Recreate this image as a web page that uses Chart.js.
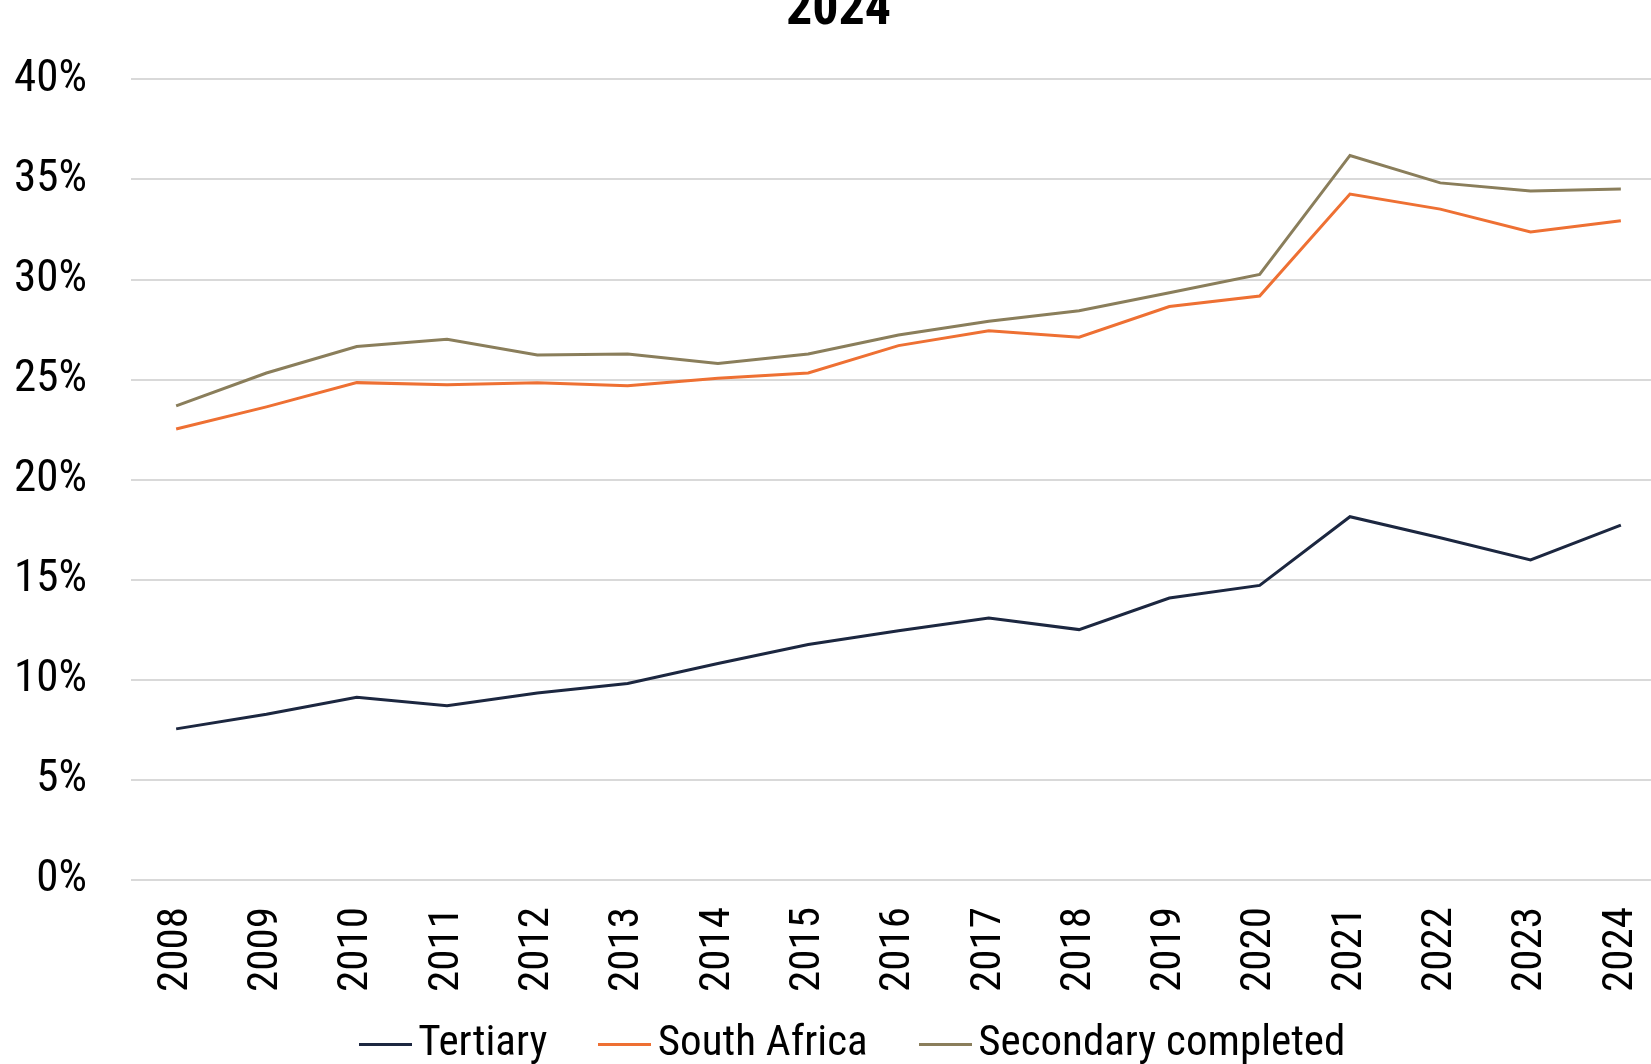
<!DOCTYPE html>
<html>
<head>
<meta charset="utf-8">
<script src="https://cdn.jsdelivr.net/npm/chart.js@4"></script>
<style>
  html, body { margin: 0; padding: 0; background: #fff; overflow: hidden; }
  #wrap { position: absolute; left: 0; top: -24px; width: 1670px; height: 1100px; }
</style>
</head>
<body>
<div id="wrap"><canvas id="chart"></canvas></div>
<script>
const FONT = "'Liberation Sans Narrow', 'Roboto Condensed', 'DejaVu Sans Condensed', 'Liberation Sans', sans-serif";

const years = ["2008", "2009", "2010", "2011", "2012", "2013", "2014", "2015", "2016",
  "2017", "2018", "2019", "2020", "2021", "2022", "2023", "2024"];

// values in percent
const tertiary = [7.55, 8.28, 9.13, 8.71, 9.34, 9.82, 10.82, 11.77, 12.45,
  13.09, 12.51, 14.09, 14.72, 18.15, 17.1, 15.99, 17.73];
const southAfrica = [22.53, 23.64, 24.85, 24.75, 24.85, 24.7, 25.07, 25.33, 26.7,
  27.44, 27.12, 28.65, 29.18, 34.27, 33.52, 32.38, 32.94];
const secondaryCompleted = [23.69, 25.33, 26.65, 27.02, 26.23, 26.28, 25.8, 26.28, 27.23,
  27.92, 28.44, 29.34, 30.26, 36.2, 34.83, 34.42, 34.52];

const yTicks = [0, 5, 10, 15, 20, 25, 30, 35, 40];

// legend sample: a short line drawn by the legend as its point style
function legendLine(color) {
  const c = document.createElement("canvas");
  c.width = 53;
  c.height = 3;
  const ctx = c.getContext("2d");
  ctx.fillStyle = color;
  ctx.fillRect(0, 0, 53, 3);
  return c;
}

function series(label, data, color) {
  return {
    label: label,
    data: data,
    borderColor: color,
    backgroundColor: color,
    borderWidth: 3,
    pointRadius: 0,
    tension: 0,
    pointStyle: legendLine(color)
  };
}

// x labels hang below the (short) x box; widen its clip area, nudge legend
const layoutTweak = {
  id: "layoutTweak",
  afterLayout(chart) {
    chart.scales.x.bottom = chart.height;
    chart.legend.left += 21;
    chart.legend.right += 21;
  }
};

new Chart(document.getElementById("chart"), {
  type: "line",
  data: {
    labels: years,
    datasets: [
      series("Tertiary", tertiary, "#1c2740"),
      series("South Africa", southAfrica, "#ee7033"),
      series("Secondary completed", secondaryCompleted, "#8a7e5b")
    ]
  },
  plugins: [layoutTweak],
  options: {
    responsive: true,
    maintainAspectRatio: false,
    animation: false,
    layout: { padding: { left: 11, right: 4, top: 0, bottom: 0 } },
    plugins: {
      title: {
        display: true,
        text: "2024",
        color: "#000",
        font: { family: FONT, size: 52, weight: "bold" },
        padding: { top: 4, bottom: 37 }
      },
      legend: {
        position: "bottom",
        labels: {
          color: "#000",
          font: { family: FONT, size: 43 },
          usePointStyle: true,
          pointStyleWidth: 23,
          padding: 66
        }
      },
      tooltip: { enabled: false }
    },
    scales: {
      x: {
        offset: true,
        afterFit: (s) => { s.height = 77; s.paddingLeft = 0; s.paddingRight = 0; },
        grid: { display: false, drawTicks: false },
        border: { display: false },
        ticks: {
          color: "#000",
          font: { family: FONT, size: 43 },
          minRotation: 90,
          maxRotation: 90,
          padding: 27
        }
      },
      y: {
        min: 0,
        max: 40,
        afterBuildTicks: (s) => { s.ticks = yTicks.map((v) => ({ value: v })); },
        afterFit: (s) => { s.width = 120; },
        grid: { color: "#d9d9d9", lineWidth: 2, drawTicks: false },
        border: { display: false },
        ticks: {
          color: "#000",
          font: { family: FONT, size: 45 },
          padding: 44,
          callback: (v) => v + "%"
        }
      }
    }
  }
});
</script>
</body>
</html>
